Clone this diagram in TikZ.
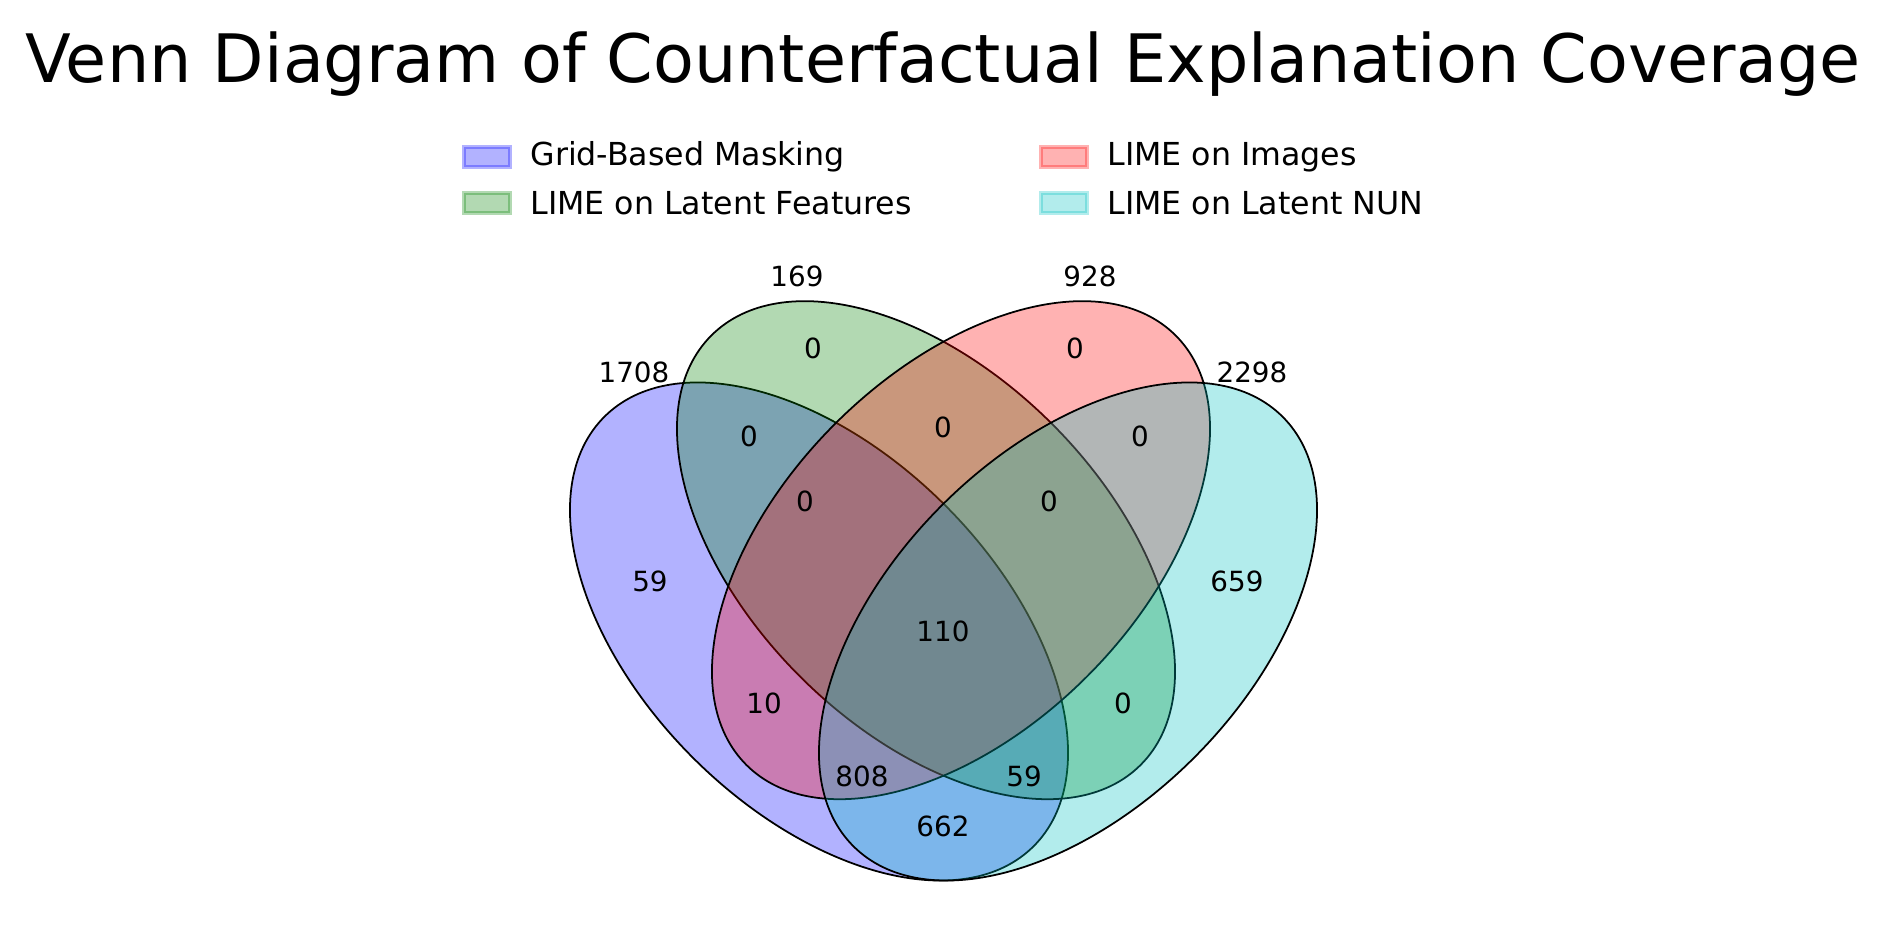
\documentclass[tikz,border=0pt]{standalone}
\usepackage{fontspec}
\setmainfont{DejaVu Sans}
\usepackage{tikz}
\usetikzlibrary{positioning}

\definecolor{vblue}{rgb}{0,0,1}
\definecolor{vgreen}{rgb}{0,0.5,0}
\definecolor{vred}{rgb}{1,0,0}
\definecolor{vcyan}{rgb}{0,0.75,0.75}

\tikzset{
  settitle/.style={font=\fontsize{19}{23}\selectfont, inner sep=0pt, anchor=base},
  legpatch/.style={minimum width=0.46cm, minimum height=0.2cm, inner sep=0pt, line width=1pt, opacity=0.3},
  legtext/.style={font=\fontsize{9}{11}\selectfont, inner sep=0pt, anchor=west},
  setshape/.style={draw=black, line width=0.5pt, fill opacity=0.3},
  count/.style={font=\fontsize{7.9}{9.5}\selectfont, inner sep=0pt}
}

\begin{document}
\begin{tikzpicture}[x=0.01cm, y=0.01cm]
    \useasboundingbox (0,0) rectangle (1887,945);
    % title
    \node[settitle] (title) at (943,862) {Venn Diagram of Counterfactual Explanation Coverage};
    % legend
    \foreach \key/\lx/\ly/\col/\txt in {gbm/487/788/vblue/Grid-Based Masking,
        lat/487/742/vgreen/LIME on Latent Features,
        img/1064/788/vred/LIME on Images,
        nun/1064/742/vcyan/LIME on Latent NUN}
    {
        \node[legpatch, draw=\col, fill=\col] (leg-\key) at (\lx,\ly) {};
        \node[legtext, right=0.18cm of leg-\key] (legtxt-\key) {\txt};
    }
    % the four sets
    \foreach \cx/\cy/\ang/\col in {819/313.5/-45/vblue, 926/394.8/-45/vgreen,
        961/394.8/45/vred, 1068/313.5/45/vcyan}
    \draw[setshape, fill=\col, rotate around={\ang:(\cx,\cy)}]
        (\cx,\cy) ellipse [x radius=303.6, y radius=178.4];
    % set sizes
    \node[count] (size-gbm) at (634,573) {1708};
    \node[count] (size-lat) at (797,669) {169};
    \node[count] (size-img) at (1090,669) {928};
    \node[count] (size-nun) at (1252,573) {2298};
    % region counts
    \node[count] (r0100) at (813,597) {0};
    \node[count] (r1100) at (749,509) {0};
    \node[count] (r0110) at (943,518) {0};
    \node[count] (r0010) at (1075,597) {0};
    \node[count] (r0011) at (1140,509) {0};
    \node[count] (r1110) at (805,444) {0};
    \node[count] (r0111) at (1049,444) {0};
    \node[count] (r1000) at (650,364) {59};
    \node[count] (r0001) at (1237,364) {659};
    \node[count] (r1111) at (943,314) {110};
    \node[count] (r1010) at (764,242) {10};
    \node[count] (r0101) at (1123,242) {0};
    \node[count] (r1011) at (862,169) {808};
    \node[count] (r1101) at (1024,169) {59};
    \node[count] (r1001) at (943,119) {662};
\end{tikzpicture}
\end{document}
